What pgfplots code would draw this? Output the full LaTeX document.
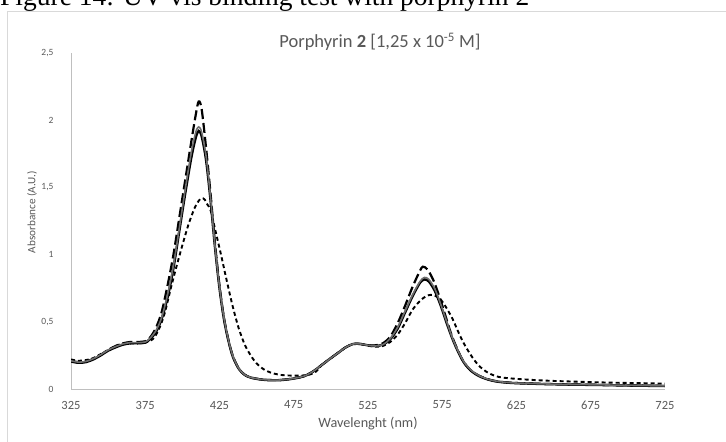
\documentclass[border=0pt]{standalone}
\usepackage{pgfplots}
\pgfplotsset{compat=1.18}
\usepackage{fontspec}
\setmainfont{Carlito}
\newfontfamily\capfont{Liberation Serif}
\definecolor{txtgray}{RGB}{89,89,89}
\definecolor{axgray}{RGB}{191,191,191}
\definecolor{bordergray}{RGB}{217,217,217}
\definecolor{curvegray}{RGB}{110,110,110}

\pgfplotstableread{
x y
325 0.205
330 0.195
335 0.20
340 0.22
345 0.25
350 0.285
355 0.31
360 0.33
365 0.34
370 0.34
375 0.345
378 0.37
382 0.42
386 0.52
390 0.68
394 0.90
398 1.18
402 1.46
406 1.72
409 1.87
411 1.92
413 1.88
416 1.70
419 1.40
422 1.05
425 0.75
428 0.52
431 0.36
434 0.24
438 0.15
442 0.105
446 0.085
452 0.072
458 0.066
464 0.065
470 0.07
476 0.08
482 0.095
488 0.13
494 0.18
500 0.23
505 0.27
510 0.31
515 0.335
520 0.335
525 0.325
530 0.32
535 0.33
540 0.37
545 0.45
550 0.57
555 0.69
560 0.79
563 0.815
566 0.80
570 0.73
574 0.62
578 0.49
582 0.37
586 0.27
590 0.19
595 0.13
600 0.095
606 0.07
612 0.055
622 0.045
640 0.038
660 0.033
680 0.03
700 0.026
725 0.022
}\solidblack

\pgfplotstableread{
x y
325 0.21
330 0.20
335 0.205
340 0.225
345 0.255
350 0.29
355 0.315
360 0.335
365 0.345
370 0.345
375 0.35
378 0.375
382 0.43
386 0.53
390 0.70
394 0.92
398 1.20
402 1.49
406 1.76
409 1.91
411 1.95
413 1.91
416 1.73
419 1.42
422 1.06
425 0.76
428 0.53
431 0.365
434 0.245
438 0.152
442 0.106
446 0.086
452 0.073
458 0.067
464 0.066
470 0.071
476 0.081
482 0.096
488 0.13
494 0.18
500 0.23
505 0.27
510 0.31
515 0.335
520 0.335
525 0.325
530 0.32
535 0.33
540 0.375
545 0.46
550 0.58
555 0.70
560 0.80
563 0.83
566 0.815
570 0.745
574 0.63
578 0.50
582 0.375
586 0.275
590 0.195
595 0.135
600 0.098
606 0.072
612 0.057
622 0.046
640 0.039
660 0.034
680 0.031
700 0.027
725 0.023
}\solidgray

\pgfplotstableread{
x y
325 0.21
330 0.20
335 0.205
340 0.225
345 0.255
350 0.29
355 0.32
360 0.34
365 0.35
370 0.35
375 0.355
378 0.38
382 0.45
386 0.57
390 0.77
394 1.00
398 1.28
402 1.56
406 1.84
409 2.04
411 2.14
413 2.08
416 1.79
419 1.45
422 1.08
425 0.77
428 0.53
431 0.365
434 0.245
438 0.152
442 0.106
446 0.086
452 0.073
458 0.067
464 0.066
470 0.071
476 0.081
482 0.096
488 0.13
494 0.18
500 0.23
505 0.27
510 0.31
515 0.335
520 0.335
525 0.325
530 0.325
535 0.34
540 0.39
545 0.49
550 0.62
555 0.76
560 0.88
562 0.91
565 0.89
569 0.81
573 0.69
577 0.55
581 0.41
585 0.30
589 0.21
594 0.14
600 0.098
606 0.072
612 0.057
622 0.046
640 0.039
660 0.034
680 0.031
700 0.027
725 0.023
}\longdash

\pgfplotstableread{
x y
325 0.22
330 0.21
335 0.215
340 0.23
345 0.26
350 0.29
355 0.32
360 0.335
365 0.34
370 0.34
375 0.345
380 0.37
384 0.44
388 0.56
392 0.74
396 0.91
400 1.07
404 1.22
408 1.34
411 1.40
413 1.42
415 1.41
417 1.37
419 1.33
422 1.19
426 1.00
430 0.80
434 0.61
438 0.45
442 0.33
446 0.25
450 0.19
455 0.145
460 0.12
466 0.105
473 0.10
480 0.10
486 0.108
490 0.13
494 0.18
500 0.23
505 0.27
510 0.31
515 0.335
520 0.335
525 0.322
530 0.315
535 0.32
540 0.35
545 0.405
550 0.49
555 0.59
560 0.655
564 0.69
567 0.70
570 0.695
574 0.665
578 0.60
582 0.52
586 0.42
590 0.33
595 0.24
600 0.17
606 0.12
613 0.09
622 0.078
635 0.068
650 0.06
670 0.053
690 0.047
707 0.044
725 0.04
}\shortdash

\begin{document}
\begin{tikzpicture}[x=1pt,y=1pt]
\path[use as bounding box] (0,0) rectangle (726,442);
\clip (0,0) rectangle (726,442);
% caption above the chart, cut off at the top as in the reference
\node[anchor=base west, inner sep=0pt, font=\capfont\fontsize{27.5}{30}\selectfont] at (0,436) {Figure 14: UV-vis binding test with porphyrin 2};
\fill[white] (7,-10) rectangle (760,430);
\draw[bordergray, line width=1pt] (7,-10) rectangle (760,430);
\node[font=\fontsize{18.5}{22}\selectfont, text=txtgray] at (380,400) {Porphyrin \textbf{2} [1,25 x 10\textsuperscript{-5} M]};
\node[font=\fontsize{14.2}{17}\selectfont, text=txtgray] at (368,18) {Wavelenght (nm)};
\node[font=\fontsize{11.2}{14}\selectfont, text=txtgray, rotate=90] at (32,230) {Absorbance (A.U.)};
\begin{axis}[
  at={(71pt,53pt)}, anchor=south west,
  scale only axis, width=594pt, height=336pt,
  xmin=325, xmax=725, ymin=0, ymax=2.5,
  xtick={325,375,...,725}, ytick={0,0.5,...,2.5},
  axis x line*=bottom, axis y line*=left,
  axis line style={axgray, line width=1pt, -},
  major tick length=0pt,
  tick label style={text=txtgray},
  xticklabel style={font=\fontsize{12.5}{15}\selectfont, anchor=center, yshift=-16pt},
  yticklabel style={font=\fontsize{9.5}{12}\selectfont, anchor=east, xshift=-14pt},
  /pgf/number format/.cd, use comma, assume math mode=true,
]
\addplot[black, line width=2.4pt, smooth, tension=0.5] table {\solidblack};
\addplot[black, line width=2.2pt, dash pattern=on 10pt off 4pt, smooth, tension=0.5] table {\longdash};
\addplot[black, line width=1.9pt, dash pattern=on 4pt off 3pt, smooth, tension=0.5] table {\shortdash};
\addplot[curvegray, line width=1.6pt, smooth, tension=0.5] table {\solidgray};
\end{axis}
\end{tikzpicture}
\end{document}
